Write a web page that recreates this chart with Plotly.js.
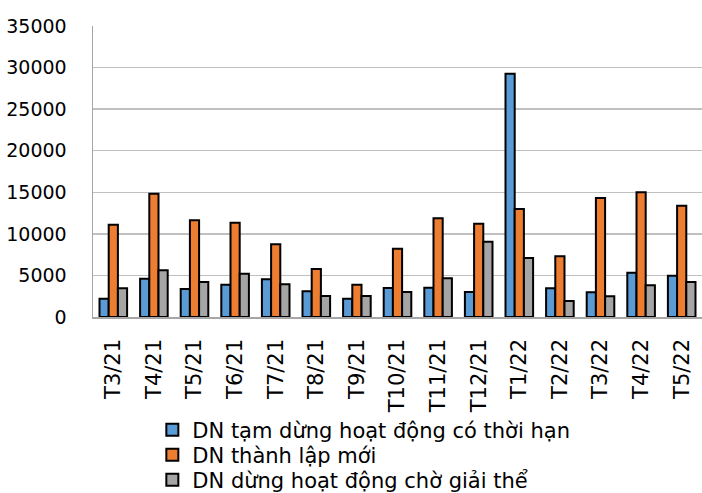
<!DOCTYPE html>
<html><head><meta charset="utf-8">
<script src="https://cdn.plot.ly/plotly-3.0.1.min.js"></script>
<style>body{margin:0;padding:0;background:#fff}#chart{width:702px;height:493px}</style>
</head><body><div id="chart"></div>
<script>
const categories = ["T3/21","T4/21","T5/21","T6/21","T7/21","T8/21","T9/21","T10/21","T11/21","T12/21","T1/22","T2/22","T3/22","T4/22","T5/22"];
const tamDung = [2200,4610,3370,3890,4530,3090,2200,3490,3530,3010,29270,3450,2970,5330,4970];
const thanhLap = [11100,14830,11630,11350,8740,5770,3890,8220,11870,11230,12990,7300,14310,15000,13390];
const choGiaiThe = [3450,5610,4210,5210,3930,2530,2530,3010,4650,9060,7100,1920,2490,3810,4210];
const seriesNames = ["DN tạm dừng hoạt động có thời hạn","DN thành lập mới","DN dừng hoạt động chờ giải thể"];
const colors = ["#5B9BD5","#ED7D31","#A5A5A5"];
const vals = [tamDung, thanhLap, choGiaiThe];
const legendIds = ['legend','legend2','legend3'];
const data = vals.map((v,i)=>({
  type:'bar', x:categories, y:v, name:seriesNames[i], legend:legendIds[i],
  marker:{color:colors[i], line:{color:'#000', width:2}}
}));
const fam = '"DejaVu Sans", Verdana, sans-serif';
const yfont = {family:fam, size:19, color:'#000'};
const xfont = {family:fam, size:21, color:'#000'};
const lfont = {family:fam, size:21, color:'#000'};
const legRows = [0.1278, 0.0771, 0.0264];
function leg(y){ return {x:0.217, y:y, xref:'container', yref:'container', xanchor:'left', yanchor:'middle', font:lfont, bgcolor:'rgba(0,0,0,0)', borderwidth:0}; }
const layout = {
  width:702, height:493,
  margin:{l:93, r:0, t:26, b:176, autoexpand:false},
  paper_bgcolor:'#fff', plot_bgcolor:'#fff',
  font:yfont,
  barmode:'group', bargap:0.32, bargroupgap:0,
  showlegend:true,
  legend:leg(legRows[0]), legend2:leg(legRows[1]), legend3:leg(legRows[2]),
  xaxis:{type:'category', automargin:false, tickangle:-90, showline:true, linecolor:'#a6a6a6', linewidth:1.5, showgrid:false, ticks:'', tickfont:xfont, ticklabelstandoff:12},
  yaxis:{range:[0,35000], dtick:5000, tickformat:'d', automargin:false, showline:true, linecolor:'#a6a6a6', linewidth:1.5, gridcolor:'#c0c0c0', gridwidth:1.5, zeroline:false, ticks:'', tickfont:yfont, ticklabelstandoff:21}
};
Plotly.newPlot('chart', data, layout, {staticPlot:true, displayModeBar:false});
</script></body></html>
